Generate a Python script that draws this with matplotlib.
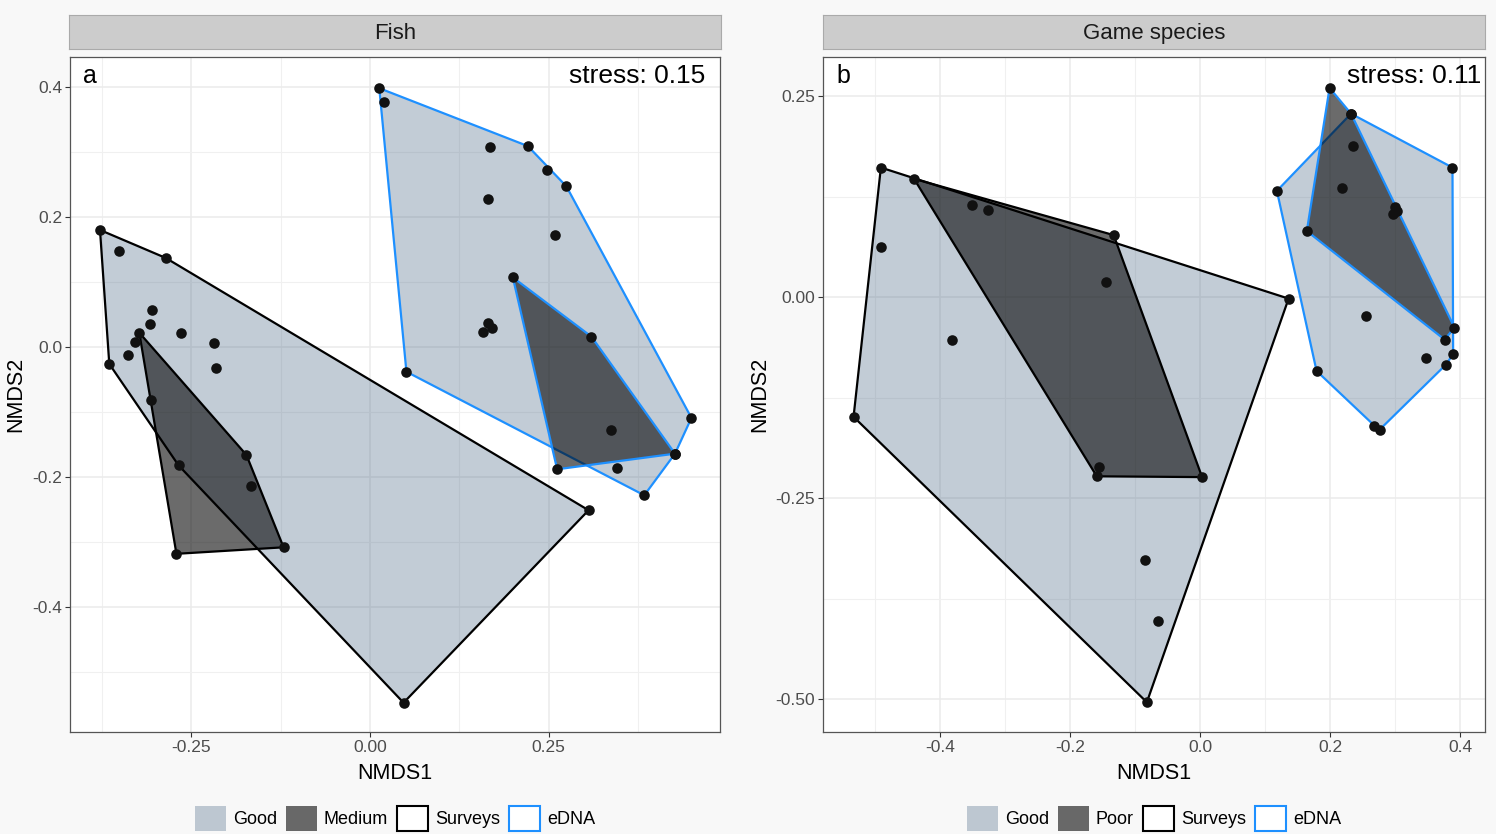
import numpy as np
import matplotlib
matplotlib.use('Agg')
import matplotlib.pyplot as plt
from matplotlib.patches import Polygon, Patch
from matplotlib.colors import to_rgba

plt.rcParams['font.family'] = ['Liberation Sans', 'DejaVu Sans']

# %% data (NMDS scores)
# Fish
fish_surv_good_x = [-0.378, -0.351, -0.286, -0.305, -0.308, -0.329, -0.339, -0.365, -0.264, -0.219, -0.216, -0.268, 0.306, 0.047]
fish_surv_good_y = [0.180, 0.147, 0.137, 0.057, 0.036, 0.008, -0.013, -0.026, 0.021, 0.006, -0.032, -0.182, -0.251, -0.547]
fish_surv_med_x = [-0.323, -0.306, -0.173, -0.167, -0.121, -0.271]
fish_surv_med_y = [0.022, -0.081, -0.166, -0.213, -0.308, -0.318]
fish_edna_good_x = [0.013, 0.020, 0.168, 0.221, 0.248, 0.275, 0.165, 0.259, 0.165, 0.171, 0.158, 0.051, 0.450, 0.427, 0.346, 0.384]
fish_edna_good_y = [0.398, 0.377, 0.307, 0.309, 0.272, 0.247, 0.227, 0.172, 0.037, 0.029, 0.023, -0.038, -0.109, -0.164, -0.186, -0.228]
fish_edna_med_x = [0.200, 0.310, 0.338, 0.427, 0.262]
fish_edna_med_y = [0.107, 0.016, -0.128, -0.164, -0.188]

# Game species
game_surv_good_x = [-0.491, -0.491, -0.382, -0.533, 0.136, -0.085, -0.065, -0.082]
game_surv_good_y = [0.161, 0.062, -0.053, -0.149, -0.002, -0.327, -0.403, -0.504]
game_surv_poor_x = [-0.440, -0.351, -0.327, -0.133, -0.145, -0.156, -0.159, 0.003]
game_surv_poor_y = [0.147, 0.114, 0.108, 0.077, 0.019, -0.211, -0.223, -0.224]
game_edna_good_x = [0.232, 0.388, 0.118, 0.255, 0.389, 0.348, 0.378, 0.179, 0.268, 0.276]
game_edna_good_y = [0.228, 0.161, 0.132, -0.024, -0.071, -0.076, -0.084, -0.092, -0.160, -0.165]
game_edna_poor_x = [0.199, 0.232, 0.235, 0.218, 0.300, 0.297, 0.303, 0.164, 0.391, 0.376]
game_edna_poor_y = [0.260, 0.228, 0.188, 0.136, 0.112, 0.103, 0.107, 0.082, -0.038, -0.053]

GOOD = to_rgba('#516d8a', 0.35)
BAD = to_rgba('black', 0.58)
SURV = 'black'
EDNA = '#1e90ff'
W, H = 1496, 834


def hull(xs, ys):
    # monotone chain convex hull
    pts = sorted(set(zip(xs, ys)))

    def cross(o, a, b):
        return (a[0] - o[0]) * (b[1] - o[1]) - (a[1] - o[1]) * (b[0] - o[0])

    lower, upper = [], []
    for p in pts:
        while len(lower) >= 2 and cross(lower[-2], lower[-1], p) <= 0:
            lower.pop()
        lower.append(p)
    for p in reversed(pts):
        while len(upper) >= 2 and cross(upper[-2], upper[-1], p) <= 0:
            upper.pop()
        upper.append(p)
    return np.array(lower[:-1] + upper[:-1])


def panel(rect, strip, title, tag, stress, groups, xlim, ylim, xmaj, xmin, ymaj, ymin,
          xlab, ylab, leg_labels, ylab_x):
    l, r, t, b = rect
    ax = fig.add_axes([l / W, 1 - b / H, (r - l) / W, (b - t) / H])
    ax.set_facecolor('white')
    for gx, gy, fc, ec in groups:
        h = hull(gx, gy)
        ax.add_patch(Polygon(h, closed=True, facecolor=fc, edgecolor=ec, lw=1.6, zorder=2))
    allx = np.concatenate([g[0] for g in groups])
    ally = np.concatenate([g[1] for g in groups])
    ax.scatter(allx, ally, s=58, c='#111111', linewidths=0, zorder=5)

    ax.set_xlim(*xlim)
    ax.set_ylim(*ylim)
    ax.set_xticks(xmaj)
    ax.set_xticklabels(xlab)
    ax.set_xticks(xmin, minor=True)
    ax.set_yticks(ymaj)
    ax.set_yticklabels(ylab)
    ax.set_yticks(ymin, minor=True)
    ax.grid(True, which='major', color='#ebebeb', lw=1.1, zorder=0)
    ax.grid(True, which='minor', color='#f0f0f0', lw=0.8, zorder=0)
    ax.set_axisbelow(True)
    ax.tick_params(which='major', direction='out', length=3.5, width=0.8, color='#333333',
                   labelsize=12.5, labelcolor='#4d4d4d', pad=2)
    ax.tick_params(which='minor', length=0)
    for s in ax.spines.values():
        s.set_color('#555555')
        s.set_linewidth(0.9)

    ax.set_xlabel('NMDS1', fontsize=15.5)
    ax.xaxis.set_label_coords(0.5, -0.046)
    ax.set_ylabel('NMDS2', fontsize=15.5)
    ax.yaxis.set_label_coords(ylab_x, 0.5)

    ax.text(0.02, 0.99, tag, transform=ax.transAxes, ha='left', va='top', fontsize=18)
    ax.text(0.978 if tag == 'a' else 0.994, 0.99, stress, transform=ax.transAxes,
            ha='right', va='top', fontsize=19)

    # facet strip
    sl, sr, st, sb = strip
    sax = fig.add_axes([sl / W, 1 - sb / H, (sr - sl) / W, (sb - st) / H])
    sax.set_facecolor('#cccccc')
    sax.set_xticks([])
    sax.set_yticks([])
    for s in sax.spines.values():
        s.set_color('#aaaaaa')
        s.set_linewidth(0.8)
    sax.text(0.5, 0.47, title, ha='center', va='center', fontsize=16, color='#1a1a1a')

    handles = [Patch(facecolor=GOOD, edgecolor='none'),
               Patch(facecolor=BAD, edgecolor='none'),
               Patch(facecolor='white', edgecolor=SURV, lw=1.5),
               Patch(facecolor='white', edgecolor=EDNA, lw=1.5)]
    ax.legend(handles, leg_labels, loc='center', bbox_to_anchor=(0.5, -0.128), ncol=4,
              frameon=False, fontsize=13, handlelength=1.7, handleheight=1.7,
              handletextpad=0.4, columnspacing=0.5, borderaxespad=0)
    return ax


fig = plt.figure(figsize=(W / 100, H / 100), dpi=100, facecolor='#f8f8f8')

panel((70, 720, 57, 732), (69, 721, 15, 49), 'Fish', 'a', 'stress: 0.15',
      [(fish_surv_good_x, fish_surv_good_y, GOOD, SURV),
       (fish_edna_good_x, fish_edna_good_y, GOOD, EDNA),
       (fish_surv_med_x, fish_surv_med_y, BAD, SURV),
       (fish_edna_med_x, fish_edna_med_y, BAD, EDNA)],
      (-0.420, 0.490), (-0.592, 0.446),
      [-0.25, 0.0, 0.25], [-0.375, -0.125, 0.125, 0.375],
      [-0.4, -0.2, 0.0, 0.2, 0.4], [-0.5, -0.3, -0.1, 0.1, 0.3],
      ['-0.25', '0.00', '0.25'], ['-0.4', '-0.2', '0.0', '0.2', '0.4'],
      ['Good', 'Medium', 'Surveys', 'eDNA'], -0.068)

panel((823, 1485, 57, 732), (823, 1485, 15, 49), 'Game species', 'b', 'stress: 0.11',
      [(game_surv_good_x, game_surv_good_y, GOOD, SURV),
       (game_edna_good_x, game_edna_good_y, GOOD, EDNA),
       (game_surv_poor_x, game_surv_poor_y, BAD, SURV),
       (game_edna_poor_x, game_edna_poor_y, BAD, EDNA)],
      (-0.580, 0.438), (-0.541, 0.2985),
      [-0.4, -0.2, 0.0, 0.2, 0.4], [-0.5, -0.3, -0.1, 0.1, 0.3],
      [0.25, 0.0, -0.25, -0.5], [0.125, -0.125, -0.375],
      ['-0.4', '-0.2', '0.0', '0.2', '0.4'], ['0.25', '0.00', '-0.25', '-0.50'],
      ['Good', 'Poor', 'Surveys', 'eDNA'], -0.080)

fig.savefig('out.png', dpi=100, facecolor=fig.get_facecolor())
